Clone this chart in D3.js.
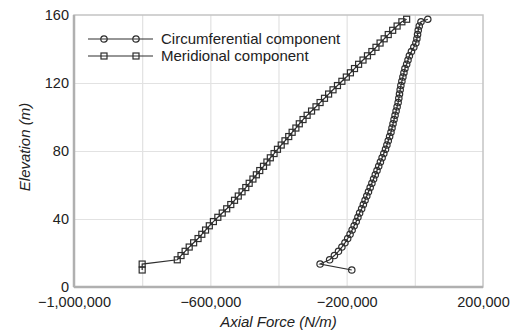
<!DOCTYPE html>
<html>
<head>
<meta charset="utf-8">
<script src="https://cdn.jsdelivr.net/npm/d3@7"></script>
<style>
  html, body { margin: 0; padding: 0; background: #fff; }
  svg { display: block; font-family: "Liberation Sans", Arial, Helvetica, sans-serif; }
</style>
</head>
<body>
<svg id="chart" width="525" height="336"></svg>
<script>
// Elevation levels (m) shared by both force components
const elevations = [10, 13.5, 16, 18.5, 21, 23.5, 26, 28.5, 31, 33.5, 36, 38.5, 41, 43.5, 46, 48.5,
  51, 53.5, 56, 58.5, 61, 63.5, 66, 68.5, 71, 73.5, 76, 78.5, 81, 83.5, 86, 88.5, 91, 93.5, 96, 98.5,
  101, 103.5, 106, 108.5, 111, 113.5, 116, 118.5, 121, 123.5, 126, 128.5, 131, 133.5, 136, 138.5,
  141, 143.5, 146, 148.5, 151, 153.5, 156, 157.5];

// Circumferential axial force (N/m)
const circumferential = [-185000, -278000, -250000, -236000, -224000, -214000, -205000, -197000,
  -190000, -184000, -178000, -172000, -167000, -162000, -156000, -151000, -146000, -141000,
  -136000, -131000, -126000, -121000, -116000, -111000, -106000, -101000, -96000, -91000,
  -86000, -82000, -78000, -74000, -70000, -67000, -64000, -61000, -58000, -55000, -52000,
  -49000, -47000, -45000, -43000, -41000, -38000, -35000, -32000, -29000, -24000, -20000,
  -16000, -10000, -3000, 3000, 6000, 8000, 10000, 13000, 18000, 38000];

// Meridional axial force (N/m)
const meridional = [-800000, -800000, -697000, -686000, -674000, -662000, -649000, -636000,
  -625000, -614000, -603000, -591000, -578000, -565000, -552000, -540000, -529000, -518000,
  -507000, -496000, -486000, -475000, -465000, -455000, -444000, -434000, -424000, -413000,
  -403000, -392000, -381000, -370000, -360000, -349000, -339000, -328000, -316000, -303000,
  -290000, -278000, -265000, -253000, -240000, -227000, -214000, -201000, -189000, -177000,
  -165000, -152000, -139000, -126000, -114000, -102000, -90000, -78000, -65000, -52000,
  -38000, -24000];

const seriesNames = ["Circumferential component", "Meridional component"];
const xGridValues = [-800000, -600000, -400000, -200000, 0];
const xTickLabels = [-1000000, -600000, -200000, 200000];
const yTickValues = [0, 40, 80, 120, 160];

const svg = d3.select("#chart");
const W = 525, H = 336;
const margin = { top: 15, right: 42, bottom: 49, left: 74 };
const iw = W - margin.left - margin.right;
const ih = H - margin.top - margin.bottom;

const x = d3.scaleLinear().domain([-1000000, 200000]).range([0, iw]);
const y = d3.scaleLinear().domain([0, 160]).range([ih, 0]);

const g = svg.append("g").attr("transform", `translate(${margin.left},${margin.top})`);

// grid
g.append("g")
  .attr("class", "xgrid")
  .call(d3.axisBottom(x).tickValues(xGridValues).tickSize(-ih).tickFormat(""))
  .attr("transform", `translate(0,${ih})`)
  .call(s => s.select(".domain").remove())
  .call(s => s.selectAll("line").attr("stroke", "#e2e2e2").attr("stroke-width", 1.2));

g.append("g")
  .attr("class", "ygrid")
  .call(d3.axisLeft(y).tickValues([40, 80, 120]).tickSize(-iw).tickFormat(""))
  .call(s => s.select(".domain").remove())
  .call(s => s.selectAll("line").attr("stroke", "#e2e2e2").attr("stroke-width", 1.2));

// frame
g.append("rect")
  .attr("x", 0).attr("y", 0).attr("width", iw).attr("height", ih)
  .attr("fill", "none").attr("stroke", "#c4c4c4").attr("stroke-width", 1.5);

g.append("line").attr("x1", 0).attr("x2", 0).attr("y1", 0).attr("y2", ih)
  .attr("stroke", "#b0b0b0").attr("stroke-width", 2.5);
g.append("line").attr("x1", 0).attr("x2", iw).attr("y1", ih).attr("y2", ih)
  .attr("stroke", "#b0b0b0").attr("stroke-width", 2.5);

// axes labels
const fmt = d3.format(",");
const xAxis = g.append("g")
  .attr("transform", `translate(0,${ih})`)
  .call(d3.axisBottom(x).tickValues(xTickLabels).tickSize(0).tickPadding(10).tickFormat(fmt));
xAxis.select(".domain").remove();
xAxis.selectAll("text").attr("font-size", 14.5).attr("fill", "#222")
  .attr("font-family", "Liberation Sans, Arial, sans-serif");

const yAxis = g.append("g")
  .call(d3.axisLeft(y).tickValues(yTickValues).tickSize(0).tickPadding(5).tickFormat(d3.format("d")));
yAxis.select(".domain").remove();
yAxis.selectAll("text").attr("font-size", 14.5).attr("fill", "#222")
  .attr("font-family", "Liberation Sans, Arial, sans-serif");

// axis titles
svg.append("text")
  .attr("x", margin.left + iw / 2).attr("y", 327)
  .attr("text-anchor", "middle").attr("font-size", 15).attr("font-style", "italic").attr("fill", "#222")
  .text("Axial Force (N/m)");

svg.append("text")
  .attr("transform", `translate(30,${margin.top + ih / 2 - 4}) rotate(-90)`)
  .attr("text-anchor", "middle").attr("font-size", 15).attr("font-style", "italic").attr("fill", "#222")
  .text("Elevation (m)");

// series
const lineStroke = "#2e2e2e";
const circData = elevations.map((e, i) => ({ e, v: circumferential[i] }));
const merData = elevations.map((e, i) => ({ e, v: meridional[i] }));
const line = d3.line().x(d => x(d.v)).y(d => y(d.e));

g.append("path").datum(merData).attr("d", line)
  .attr("fill", "none").attr("stroke", lineStroke).attr("stroke-width", 1.2);
g.append("g").selectAll("rect").data(merData).join("rect")
  .attr("x", d => x(d.v) - 3).attr("y", d => y(d.e) - 3)
  .attr("width", 6).attr("height", 6)
  .attr("fill", "none").attr("stroke", lineStroke).attr("stroke-width", 1.2);

g.append("path").datum(circData).attr("d", line)
  .attr("fill", "none").attr("stroke", lineStroke).attr("stroke-width", 1.2);
g.append("g").selectAll("circle").data(circData).join("circle")
  .attr("cx", d => x(d.v)).attr("cy", d => y(d.e)).attr("r", 3.2)
  .attr("fill", "none").attr("stroke", lineStroke).attr("stroke-width", 1.2);

// legend
const legend = svg.append("g").attr("transform", "translate(88,39)");
seriesNames.forEach((name, i) => {
  const row = legend.append("g").attr("transform", `translate(0,${i * 17})`);
  row.append("line").attr("x1", 0).attr("x2", 65).attr("y1", 0).attr("y2", 0)
    .attr("stroke", lineStroke).attr("stroke-width", 1.2);
  [16, 48].forEach(cx => {
    if (i === 0) {
      row.append("circle").attr("cx", cx).attr("cy", 0).attr("r", 3.2)
        .attr("fill", "none").attr("stroke", lineStroke).attr("stroke-width", 1.2);
    } else {
      row.append("rect").attr("x", cx - 3).attr("y", -3).attr("width", 6).attr("height", 6)
        .attr("fill", "none").attr("stroke", lineStroke).attr("stroke-width", 1.2);
    }
  });
  row.append("text").attr("x", 73).attr("y", 0).attr("dy", "0.35em")
    .attr("font-size", 15).attr("fill", "#222").text(name);
});
</script>
</body>
</html>
